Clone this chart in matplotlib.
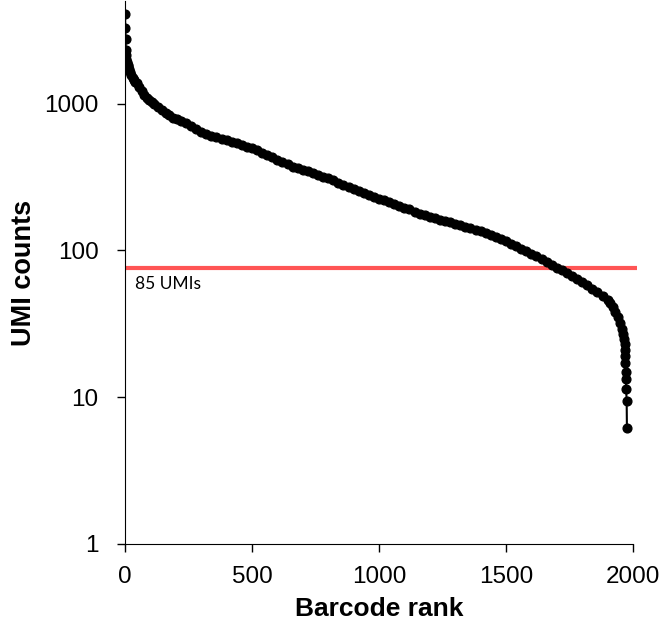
import numpy as np
import matplotlib
matplotlib.use("Agg")
import matplotlib.pyplot as plt

# barcode rank vs UMI count
rank = [0, 1, 2, 3, 4, 5, 6, 8, 10, 13, 16, 20, 25, 30, 35, 40, 46, 55, 65, 75,
        85, 95, 105, 115, 130, 145, 160, 175, 190, 205, 220, 240, 260, 280, 300,
        320, 340, 360, 380, 400, 420, 440, 460, 480, 500, 520, 540, 560, 580,
        600, 620, 640, 660, 680, 700, 720, 740, 760, 780, 800, 820, 840, 860,
        880, 900, 920, 940, 960, 980, 1000, 1020, 1040, 1060, 1080, 1100, 1120,
        1140, 1160, 1180, 1200, 1220, 1240, 1260, 1280, 1300, 1320, 1340, 1360,
        1380, 1400, 1420, 1440, 1460, 1480, 1500, 1520, 1540, 1560, 1580, 1600,
        1620, 1640, 1660, 1680, 1700, 1720, 1740, 1760, 1780, 1800, 1820, 1840,
        1860, 1880, 1900, 1910, 1920, 1930, 1940, 1948, 1955, 1961, 1965, 1967,
        1968, 1969, 1970, 1971, 1972, 1973, 1975, 1976]
umi = [4090, 3280, 2770, 2330, 2150, 2000, 1930, 1870, 1830, 1790, 1720, 1640,
       1560, 1500, 1450, 1410, 1380, 1290, 1210, 1150, 1100, 1055, 1025, 995,
       945, 905, 865, 830, 800, 780, 760, 740, 705, 670, 640, 620, 605, 592,
       578, 562, 548, 535, 522, 510, 500, 480, 460, 445, 430, 415, 400, 385,
       372, 364, 355, 345, 335, 326, 318, 310, 300, 290, 280, 270, 260, 252,
       245, 238, 231, 225, 219, 213, 207, 201, 195, 190, 184, 178, 173, 169,
       165, 161, 158, 155, 151, 148, 145, 141, 138, 135, 132, 128, 123, 119,
       115, 111, 107, 103, 99, 95, 91, 87, 83, 79, 76, 73, 70, 67, 64, 61, 58,
       55, 52, 49, 46, 44, 41, 38, 35, 32, 29, 27, 25, 23, 21, 19, 17, 14.8,
       13.2, 11.3, 9.4, 6.2]
cutoff = 75.5
cutoff_label = "85 UMIs"

fig = plt.figure(figsize=(6.65, 6.28), dpi=100)
ax = fig.add_axes([0.188, 0.1338, 0.7639, 0.8646])

ax.plot(rank, umi, color="black", lw=1.5, marker="o", ms=6.3, mec="black", mfc="black", zorder=3)
ax.hlines(cutoff, 0, 2015, color="#ff5555", lw=3, zorder=2, clip_on=False)
ax.text(40, 59, cutoff_label, family="Lato", fontsize=12.5, va="center", ha="left")

ax.set_yscale("log")
ax.set_ylim(1, 5000)
ax.set_xlim(0, 2000)
ax.set_yticks([1, 10, 100, 1000])
ax.set_yticklabels(["1", "10", "100", "1000"])
ax.minorticks_off()
ax.set_xticks([0, 500, 1000, 1500, 2000])

for s in ["top", "right"]:
    ax.spines[s].set_visible(False)
ax.tick_params(axis="y", direction="out", length=6, width=1, pad=13, labelsize=17.5)
ax.tick_params(axis="x", direction="out", length=6, width=1, pad=10, labelsize=17.5)
for lab in ax.get_xticklabels() + ax.get_yticklabels():
    lab.set_family("Liberation Sans")

ax.set_xlabel("Barcode rank", family="Liberation Sans", fontsize=19, fontweight="bold", labelpad=6)
ax.set_ylabel("UMI counts", family="Liberation Sans", fontsize=19.5, fontweight="bold", labelpad=5)

fig.savefig("out.png", dpi=100)
